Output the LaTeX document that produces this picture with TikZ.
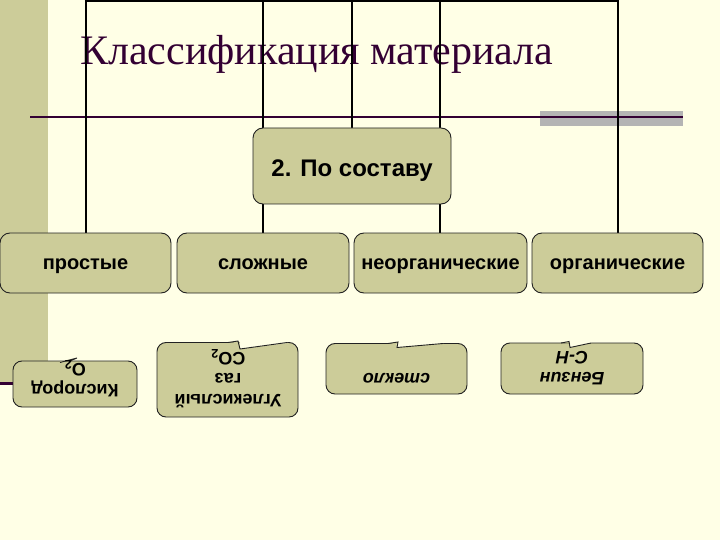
\documentclass[tikz,border=0pt]{standalone}
\usepackage{fontspec}
\setmainfont{Liberation Serif}
\newfontfamily\arialf{Liberation Sans}
\definecolor{bg}{HTML}{FFFFE6}
\definecolor{olive}{HTML}{CCCC99}
\definecolor{plum}{HTML}{330033}
\definecolor{barg}{HTML}{B4B4B4}
\definecolor{bd}{HTML}{222222}
\pgfdeclarelayer{bgl}
\pgfsetlayers{bgl,main}
\begin{document}
\begin{tikzpicture}[x=1pt,y=-1pt,
  box/.style={draw=bd, line width=0.9pt, fill=olive, rounded corners=10pt, inner sep=0pt,
    font=\arialf\bfseries\fontsize{20}{24}\selectfont, text height=12.4pt, text depth=0pt},
  cbox/.style={draw=bd, line width=0.9pt, fill=olive, rounded corners=9pt, inner sep=0pt},
  conn/.style={line width=2.4pt, black},
  lbl/.style={font=\arialf\bfseries\fontsize{18}{21}\selectfont, rotate=180, align=center, inner sep=0pt},
  lbli/.style={lbl, font=\arialf\bfseries\itshape\fontsize{18}{21}\selectfont},
  notch/.style={draw=bd, line width=0.9pt},
]
\useasboundingbox (0,0) rectangle (720,540);

% top frame coordinates
\coordinate (t1) at (86,1);
\coordinate (t2) at (263,1);
\coordinate (t3) at (352,1);
\coordinate (t4) at (440,1);
\coordinate (t5) at (618,1);

% nodes
\node[box, minimum width=198pt, minimum height=76pt, font=\arialf\bfseries\fontsize{24}{28}\selectfont,
      text height=22pt] (comp) at (352,166) {2. По составу};
\node[box, minimum width=171pt, minimum height=60pt] (prost) at (85.5,263) {простые};
\node[box, minimum width=172pt, minimum height=60pt] (slozh) at (263,263) {сложные};
\node[box, minimum width=173pt, minimum height=60pt] (neorg) at (440.5,263) {неорганические};
\node[box, minimum width=171pt, minimum height=60pt] (org) at (617.5,263) {органические};

\begin{pgfonlayer}{bgl}
\fill[bg] (0,0) rectangle (720,540);
\fill[olive] (0,0) rectangle (48,382);
\draw[plum, line width=3pt] (0,383) -- (20,383);
\node[font=\fontsize{42}{48}\selectfont, text=plum, anchor=base west, inner sep=0pt] (title) at (80,65) {Классификация материала};
\fill[barg] (540,111) rectangle (683,126);
\draw[plum, line width=1.3pt] (30,117) -- (683,117);
% connectors
\draw[conn] ([xshift=-1.2pt]t1) -- ([xshift=1.2pt]t5);
\draw[conn] (t1) -- (t1 |- prost.north);
\draw[conn] (t2) -- (t2 |- comp.north);
\draw[conn] (comp.south -| t2) -- (t2 |- slozh.north);
\draw[conn] (t3) -- (t3 |- comp.north);
\draw[conn] (t4) -- (t4 |- comp.north);
\draw[conn] (comp.south -| t4) -- (t4 |- neorg.north);
\draw[conn] (t5) -- (t5 |- org.north);
\end{pgfonlayer}

% bottom (upside-down) callouts
\node[cbox, minimum width=124pt, minimum height=46pt] (kisl) at (75,384) {};
\fill[olive] (60,361.5) -- (77,358) -- (68,361.5) -- cycle;
\draw[notch] (60,362.5) -- (77,358) -- (70,361);
\node[lbl] (kislt) at (75,379) {Кислород\\O\textsubscript{2}};

\node[cbox, minimum width=141pt, minimum height=74.5pt] (ugl) at (227.5,379.75) {};
\fill[bg] (239.5,341.5) -- (240,349) -- (287,343) -- (287,341.5) -- cycle;
\fill[olive] (228,342.5) -- (238,341) -- (240,343) -- cycle;
\draw[notch] (228,342.5) -- (238,341) -- (240,349) -- (287,342.5);
\node[lbl] (uglt) at (228,379) {Углекислый\\газ\\CO\textsubscript{2}};

\node[cbox, minimum width=141pt, minimum height=50.5pt] (stek) at (396.5,368.75) {};
\fill[bg] (396.5,342.5) -- (397,347.5) -- (443,343.5) -- (443,342.5) -- cycle;
\fill[olive] (388,343.5) -- (398,342) -- (397,344) -- cycle;
\draw[notch] (388,343.5) -- (398,342) -- (397,347.5) -- (443,343.5);
\node[lbli] (stekt) at (396.5,378) {стекло};

\node[cbox, minimum width=142pt, minimum height=51pt] (benz) at (572,368.5) {};
\fill[bg] (569.5,342) -- (570,347.5) -- (591,343) -- (591,342) -- cycle;
\fill[olive] (561,343) -- (569,341.5) -- (570,343.5) -- cycle;
\draw[notch] (561,343) -- (569,341.5) -- (570,347.5) -- (591,343);
\node[lbli] (benzt) at (572,368) {Бензин\\С-Н};
\end{tikzpicture}
\end{document}
